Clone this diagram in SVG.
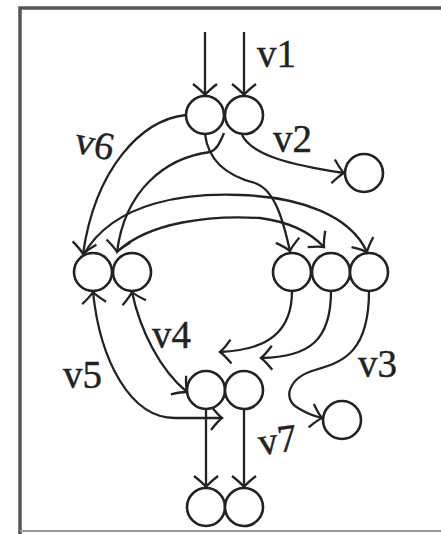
<svg xmlns="http://www.w3.org/2000/svg" width="441" height="534" viewBox="0 0 441 534">
<style>
.n{fill:#fff;stroke:#222;stroke-width:2.6}
.e{fill:none;stroke:#222;stroke-width:2.3;marker-end:url(#ah)}
.b{marker-start:url(#as)}
.t{font-family:"Liberation Serif","Times New Roman",serif;font-size:39px;fill:#222;stroke:#222;stroke-width:0.4}
</style>
<defs>
<marker id="ah" markerUnits="userSpaceOnUse" orient="auto" refX="0" refY="0" markerWidth="30" markerHeight="30" viewBox="-15 -15 30 30" overflow="visible">
<path d="M-11,-12 Q-4,-3 0,0 Q-4,3 -11,12" fill="none" stroke="#222" stroke-width="2.3"/>
</marker>
<marker id="as" markerUnits="userSpaceOnUse" orient="auto-start-reverse" refX="0" refY="0" markerWidth="30" markerHeight="30" viewBox="-15 -15 30 30" overflow="visible">
<path d="M-11,-12 Q-4,-3 0,0 Q-4,3 -11,12" fill="none" stroke="#222" stroke-width="2.3"/>
</marker>
</defs>
<rect x="0" y="0" width="441" height="534" fill="#fff"/>
<path d="M20,534 V8 H441" fill="none" stroke="#555" stroke-width="3.5"/>
<path d="M20,531 H441" fill="none" stroke="#999" stroke-width="2"/>
<g id="connectors">
<path class="e" d="M205,32 V95"/>
<path class="e" d="M244,32 V95"/>
<path class="e" d="M242,135 C252,155 290,165 344,173"/>
<path class="e" d="M186,115 C140,120 95,170 83,254"/>
<path class="e" d="M224,133 C219,145 216,150 210,152 C165,158 125,190 117,252"/>
<path class="e" d="M205,134 C208,160 225,175 255,183 C275,190 283,220 290,251"/>
<path class="e" d="M84,254 C115,200 190,193 240,195 C300,197 350,215 367,252"/>
<path class="e" d="M118,251 C150,222 210,215 260,218 C290,222 310,232 324,247"/>
<path class="e" d="M292,291 C292,330 270,350 220,352"/>
<path class="e" d="M331,291 C331,340 310,357 261,358"/>
<path class="e" d="M369,291 C369,350 345,362 315,370 C290,377 281,398 298,408 C306,413 313,416 322,418"/>
<path class="e b" d="M132,292 C140,330 160,370 187,392"/>
<path class="e b" d="M93,292 C100,360 130,418 175,418 L222,418"/>
<path class="e" d="M206,409 V487"/>
<path class="e" d="M244,409 V487"/>
</g>
<g id="n1"><circle class="n" cx="205" cy="115" r="19"/></g>
<g id="n2"><circle class="n" cx="244" cy="115" r="19"/></g>
<g id="n3"><circle class="n" cx="364" cy="173" r="19"/></g>
<g id="n4"><circle class="n" cx="93" cy="272" r="19"/></g>
<g id="n5"><circle class="n" cx="132" cy="272" r="19"/></g>
<g id="n6"><circle class="n" cx="292" cy="272" r="19"/></g>
<g id="n7"><circle class="n" cx="331" cy="272" r="19"/></g>
<g id="n8"><circle class="n" cx="369" cy="272" r="19"/></g>
<g id="n9"><circle class="n" cx="206" cy="390" r="19"/></g>
<g id="n10"><circle class="n" cx="244" cy="390" r="19"/></g>
<g id="n11"><circle class="n" cx="342" cy="420" r="19"/></g>
<g id="n12"><circle class="n" cx="206" cy="507" r="19"/></g>
<g id="n13"><circle class="n" cx="244" cy="507" r="19"/></g>
<g id="labels">
<text class="t" x="257" y="67">v1</text>
<text class="t" x="75" y="157" transform="rotate(12 96 145)">v6</text>
<text class="t" x="273" y="152">v2</text>
<text class="t" x="152" y="348">v4</text>
<text class="t" x="358" y="377">v3</text>
<text class="t" x="63" y="388">v5</text>
<text class="t" x="258" y="453" transform="rotate(-8 276 440)">v7</text>
</g>
</svg>
